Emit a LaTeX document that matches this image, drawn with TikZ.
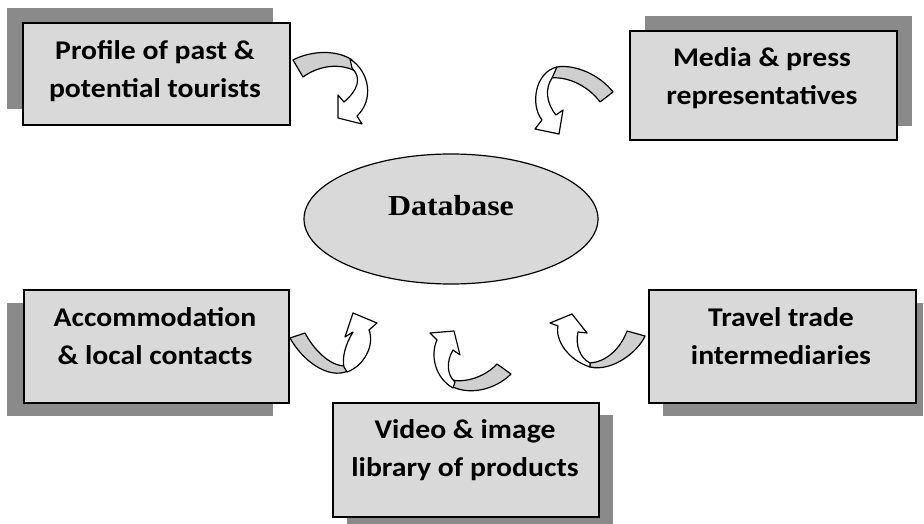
\documentclass[tikz,border=0pt]{standalone}
\usepackage{fontspec}
\usetikzlibrary{shapes.geometric}
\newfontfamily\boxfont[FakeStretch=1.1,BoldFont={Carlito Bold}]{Carlito}
\newfontfamily\dbfont[FakeStretch=1.1,BoldFont={Liberation Serif Bold}]{Liberation Serif}
\definecolor{boxgray}{HTML}{D9D9D9}
\definecolor{shadowgray}{HTML}{8A8A8A}
\definecolor{ribbon}{HTML}{CFCFCF}
\begin{document}
\begin{tikzpicture}[x=1pt,y=-1pt,
  shadowbox/.style={fill=shadowgray,draw=none,inner sep=0pt,anchor=north west},
  mainbox/.style={draw=black,line width=1.6pt,fill=boxgray,inner sep=0pt,anchor=north west},
  boxtext/.style={font=\boxfont\bfseries\fontsize{27}{38}\selectfont,align=center,anchor=north,inner sep=0pt},
  ribbonpart/.style={fill=ribbon,draw=black,line width=1.2pt,line join=round},
  headpart/.style={fill=white,draw=black,line width=1.2pt,line join=round}]
\path[use as bounding box] (0,0) rectangle (924,524);
\clip (0,0) rectangle (924,524);

% shadows
\node[shadowbox,minimum width=266pt,minimum height=101pt] (s1) at (7,8) {};
\node[shadowbox,minimum width=267pt,minimum height=110pt] (s2) at (645,16) {};
\node[shadowbox,minimum width=266pt,minimum height=113pt] (s3) at (7,303) {};
\node[shadowbox,minimum width=260pt,minimum height=113pt] (s4) at (663,303) {};
\node[shadowbox,minimum width=266pt,minimum height=115pt] (s5) at (347,415) {};

% boxes
\node[mainbox,minimum width=267pt,minimum height=102pt] (b1) at (22,22) {};
\node[mainbox,minimum width=267pt,minimum height=109pt] (b2) at (629,30) {};
\node[mainbox,minimum width=265pt,minimum height=113pt] (b3) at (23,289) {};
\node[mainbox,minimum width=267pt,minimum height=113pt] (b4) at (648,289) {};
\node[mainbox,minimum width=266pt,minimum height=114pt] (b5) at (332,402) {};

\node[boxtext] (t1) at (155,40) {Profile of past \&\\potential tourists};
\node[boxtext] (t2) at (762,47) {Media \& press\\representatives};
\node[boxtext] (t3) at (155,307) {Accommodation\\\& local contacts};
\node[boxtext] (t4) at (781,307) {Travel trade\\intermediaries};
\node[boxtext] (t5) at (465,419) {Video \& image\\library of products};

% database
\node[ellipse,draw=black,line width=1.2pt,fill=boxgray,minimum width=294pt,minimum height=130pt,inner sep=0pt] (db) at (451,219) {};
\node[font=\dbfont\bfseries\fontsize{29}{32}\selectfont,anchor=base,inner sep=0pt] (dbt) at (451,215) {Database};

% arrow A (profile -> database)
\filldraw[ribbonpart] (293,60) .. controls (312,50) and (338,50) .. (352,60) -- (357,72) .. controls (340,62) and (318,66) .. (303,77) -- cycle;
\filldraw[headpart] (350,59) .. controls (370,72) and (374,100) .. (357,116) -- (362,124) -- (338,118) -- (338,95) -- (344,102) .. controls (358,90) and (362,78) .. (352,68) -- cycle;

% arrow B (media -> database)
\filldraw[ribbonpart] (613,92) .. controls (600,75) and (575,64) .. (557,67) -- (550,78) .. controls (570,76) and (590,88) .. (600,102) -- cycle;
\filldraw[headpart] (557,67) .. controls (535,72) and (530,105) .. (542,120) -- (535,129) -- (559,134) -- (563,110) -- (556,115) .. controls (546,103) and (545,88) .. (552,78) -- cycle;

% arrow C (accommodation -> database)
\filldraw[ribbonpart] (290,338) .. controls (302,360) and (328,380) .. (348,371) -- (345,366) .. controls (330,366) and (314,350) .. (305,333) -- cycle;
\filldraw[headpart] (347,372) .. controls (364,366) and (375,345) .. (369,330) -- (377,323) -- (353,313) -- (345,337) -- (353,332) .. controls (345,345) and (342,358) .. (344,367) -- cycle;

% arrow D (video -> database)
\filldraw[ribbonpart] (497,364) .. controls (485,377) and (465,383) .. (452,380) -- (453,387) .. controls (470,395) and (495,390) .. (511,374) -- cycle;
\filldraw[headpart] (453,388) .. controls (435,378) and (430,355) .. (437,340) -- (430,333) -- (454,331) -- (460,355) -- (453,350) .. controls (446,362) and (447,375) .. (455,382) -- cycle;

% arrow E (travel -> database)
\filldraw[ribbonpart] (627,331) .. controls (620,350) and (605,362) .. (590,363) -- (590,367) .. controls (612,372) and (638,352) .. (645,336) -- cycle;
\filldraw[headpart] (590,367) .. controls (568,360) and (555,340) .. (558,326) -- (550,323) -- (572,314) -- (587,333) -- (578,332) .. controls (575,345) and (580,358) .. (590,363) -- cycle;
\end{tikzpicture}
\end{document}
